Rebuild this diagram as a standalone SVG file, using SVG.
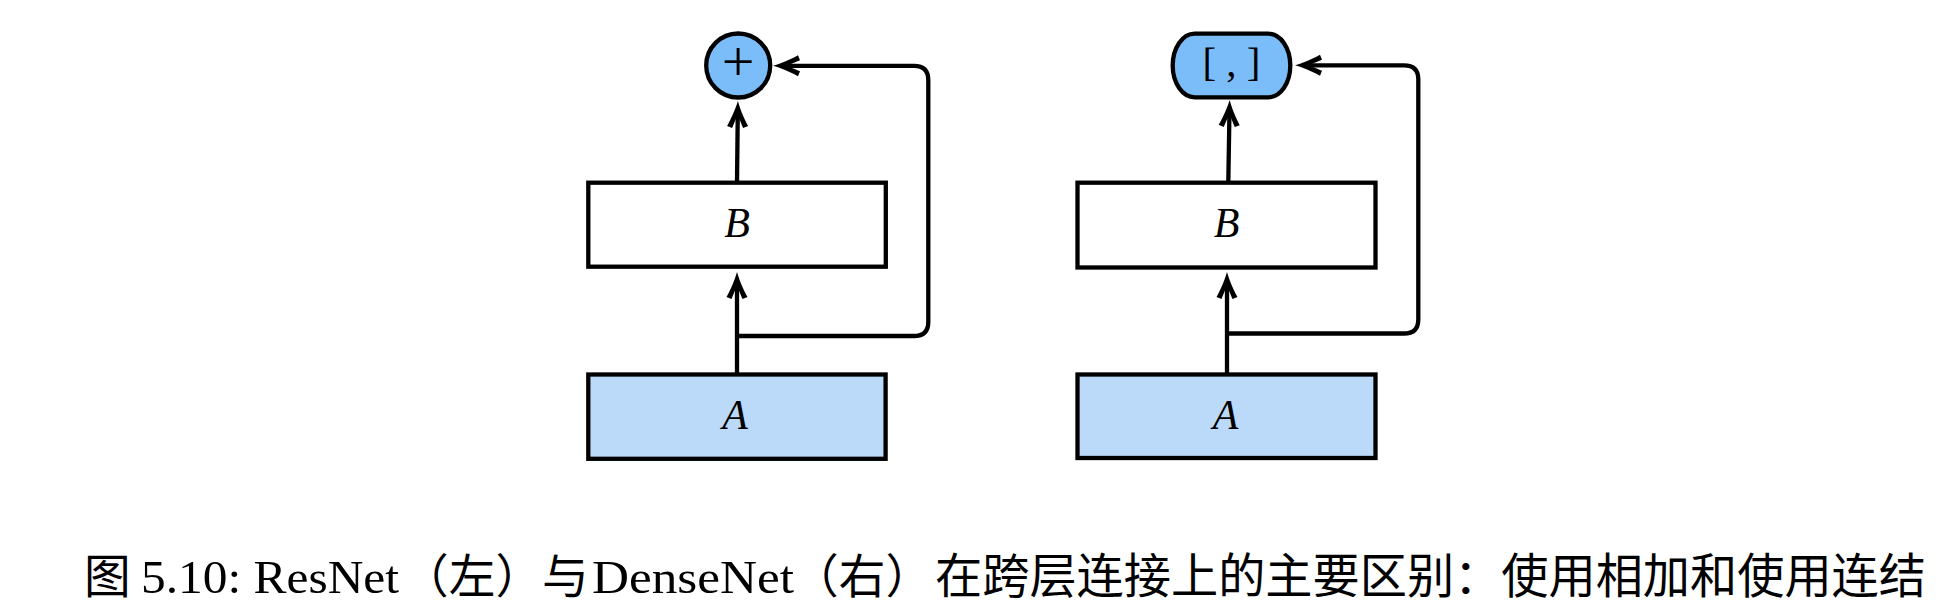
<svg xmlns="http://www.w3.org/2000/svg" width="1942" height="616" viewBox="0 0 1942 616">
<style>
.box{stroke:#000;stroke-width:4.3;}
.b{fill:#ffffff;}
.a{fill:#bbdafa;}
.op{fill:#7bbdf8;stroke:#000;stroke-width:4.3;}
.lbl{font-family:"Liberation Serif","Times New Roman",serif;font-style:italic;font-size:42px;fill:#000;text-anchor:middle;}
.sym{font-family:"Liberation Serif","Times New Roman",serif;fill:#000;text-anchor:middle;}
.edge{fill:none;stroke:#000;stroke-width:4.3;}
.cap{font-size:46.7px;fill:#000;}
.cjk{font-family:"Noto Sans CJK SC",sans-serif;}
.lat{font-family:"Liberation Serif","Times New Roman",serif;}
</style>
<defs>
<marker id="arr" markerUnits="userSpaceOnUse" markerWidth="34" markerHeight="28" viewBox="0 0 34 28" refX="19" refY="14" orient="auto" overflow="visible">
<path d="M28,14 C21,12 11,8 3,3.5 L1,8.5 C8,11.5 12,13 15,14 C12,15 8,16.5 1,19.5 L3,24.5 C11,20 21,16 28,14 Z" fill="#000"/>
</marker>
</defs>
<g id="connectors">
<path class="edge" d="M737,374.5 V281" marker-end="url(#arr)"/>
<path class="edge" d="M737,182.7 L737.8,110" marker-end="url(#arr)"/>
<path class="edge" d="M737,336 H914 Q928.3,336 928.3,322 V80 Q928.3,65.8 914,65.8 H782" marker-end="url(#arr)"/>
<path class="edge" d="M1227,374.5 V281" marker-end="url(#arr)"/>
<path class="edge" d="M1228.3,182.7 L1229.5,109" marker-end="url(#arr)"/>
<path class="edge" d="M1227,333.5 H1404 Q1418.3,333.5 1418.3,319.5 V79 Q1418.3,65.3 1404,65.3 H1304" marker-end="url(#arr)"/>
</g>
<g id="left-A">
<rect class="box a" x="588.3" y="374.5" width="297.3" height="84.3"/>
<text class="lbl" x="735" y="429">A</text>
</g>
<g id="left-B">
<rect class="box b" x="588.3" y="182.7" width="297.5" height="84"/>
<text class="lbl" x="737" y="237">B</text>
</g>
<g id="left-plus">
<circle class="op" cx="738.2" cy="65.5" r="32"/>
<text class="sym" x="738.2" y="81" font-size="58">+</text>
</g>
<g id="right-A">
<rect class="box a" x="1077.5" y="374.5" width="298" height="83.5"/>
<text class="lbl" x="1225.5" y="428.5">A</text>
</g>
<g id="right-B">
<rect class="box b" x="1077.5" y="182.7" width="298" height="84.8"/>
<text class="lbl" x="1226.5" y="237">B</text>
</g>
<g id="right-concat">
<rect class="op" x="1172.7" y="33.7" width="117.6" height="63.6" rx="22" ry="31.8"/>
<text class="sym" x="1231.5" y="76" font-size="41">[ , ]</text>
</g>
<g id="caption">
<text class="cap" y="593"><tspan class="cjk" x="84">图</tspan><tspan class="lat" x="141" textLength="258" lengthAdjust="spacingAndGlyphs">5.10: ResNet</tspan><tspan class="cjk" x="402">（左）与</tspan><tspan class="lat" x="592" textLength="202" lengthAdjust="spacingAndGlyphs">DenseNet</tspan><tspan class="cjk" x="792">（右）</tspan><tspan class="cjk" x="935" font-size="47.2">在跨层连接上的主要区别：使用相加和使用连结</tspan></text>
</g>
</svg>
